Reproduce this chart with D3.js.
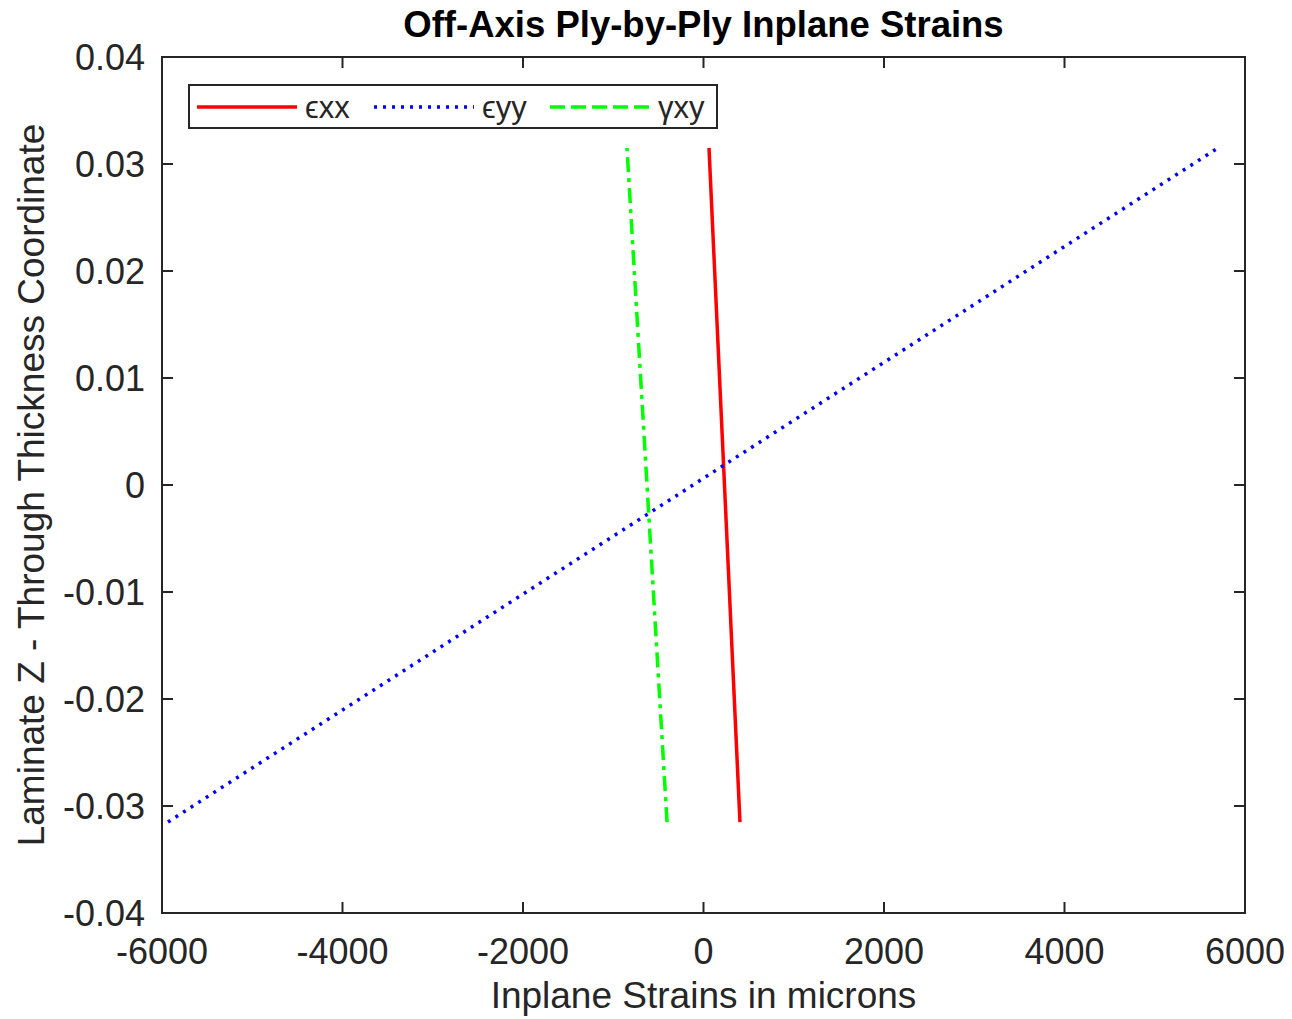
<!DOCTYPE html>
<html>
<head>
<meta charset="utf-8">
<script src="https://cdn.jsdelivr.net/npm/d3@7"></script>
<style>
body { margin: 0; background: #fff; }
text { font-family: "Liberation Sans", Arial, sans-serif; fill: #262626; }
</style>
</head>
<body>
<div id="graph"></div>
<script>
// ply stack through-thickness coordinates (bottom / top of laminate)
var zCoord = [-0.0315, 0.0315];
var exxVals = [404, 61];
var eyyVals = [-5934, 5701];
var gxyVals = [-404, -848];

var xTicks = [-6000, -4000, -2000, 0, 2000, 4000, 6000];
var yTicks = [-0.04, -0.03, -0.02, -0.01, 0, 0.01, 0.02, 0.03, 0.04];

var series = [
	{name: "\u03F5xx", vals: exxVals, color: "#ff0000", dash: null},
	{name: "\u03F5yy", vals: eyyVals, color: "#0000ff", dash: "3,6"},
	{name: "\u03B3xy", vals: gxyVals, color: "#00ff00", dash: "15,6,4,6"}
];

var W = 1292, H = 1019;
var margin = {top: 57, right: 47, bottom: 106, left: 162},
	width = W - margin.left - margin.right,
	height = H - margin.top - margin.bottom;

var svg = d3.select("#graph").append("svg")
	.attr("width", W)
	.attr("height", H);

var g = svg.append("g")
	.attr("transform", "translate(" + margin.left + "," + margin.top + ")");

var x = d3.scaleLinear().domain([-6000, 6000]).range([0, width]);
var y = d3.scaleLinear().domain([-0.04, 0.04]).range([height, 0]);

var axisColor = "#262626";
var tick = 11;

// box
g.append("rect")
	.attr("width", width).attr("height", height)
	.attr("fill", "none").attr("stroke", axisColor).attr("stroke-width", 2);

// ticks inward on all sides
xTicks.forEach(function(t) {
	g.append("line").attr("x1", x(t)).attr("x2", x(t)).attr("y1", height).attr("y2", height - tick)
		.attr("stroke", axisColor).attr("stroke-width", 2);
	g.append("line").attr("x1", x(t)).attr("x2", x(t)).attr("y1", 0).attr("y2", tick)
		.attr("stroke", axisColor).attr("stroke-width", 2);
	g.append("text").attr("x", x(t)).attr("y", height + 51)
		.attr("text-anchor", "middle").attr("font-size", 36)
		.text(String(t));
});
yTicks.forEach(function(t) {
	g.append("line").attr("x1", 0).attr("x2", tick).attr("y1", y(t)).attr("y2", y(t))
		.attr("stroke", axisColor).attr("stroke-width", 2);
	g.append("line").attr("x1", width).attr("x2", width - tick).attr("y1", y(t)).attr("y2", y(t))
		.attr("stroke", axisColor).attr("stroke-width", 2);
	g.append("text").attr("x", -17).attr("y", y(t)).attr("dy", "0.35em")
		.attr("text-anchor", "end").attr("font-size", 36)
		.text(t === 0 ? "0" : t.toFixed(2));
});

// lines
g.append("clipPath").attr("id", "clip").append("rect")
	.attr("width", width).attr("height", height);

series.forEach(function(s) {
	var pts = zCoord.map(function(z, i) { return {z: z, v: s.vals[i]}; });
	var line = d3.line().x(function(d) { return x(d.v); }).y(function(d) { return y(d.z); });
	g.append("path")
		.attr("d", line(pts))
		.attr("fill", "none")
		.attr("stroke", s.color)
		.attr("stroke-width", 3.5)
		.attr("stroke-dasharray", s.dash)
		.attr("clip-path", "url(#clip)");
});

// title and labels
svg.append("text").attr("x", margin.left + width / 2).attr("y", 37)
	.attr("text-anchor", "middle").attr("font-size", 36.5).attr("font-weight", "bold")
	.style("fill", "#000")
	.text("Off-Axis Ply-by-Ply Inplane Strains");
svg.append("text").attr("x", margin.left + width / 2).attr("y", 1008)
	.attr("text-anchor", "middle").attr("font-size", 37)
	.text("Inplane Strains in microns");
svg.append("text").attr("transform", "translate(44," + (margin.top + height / 2) + ") rotate(-90)")
	.attr("text-anchor", "middle").attr("font-size", 37)
	.text("Laminate Z - Through Thickness Coordinate");

// legend
var leg = svg.append("g").attr("transform", "translate(189,85)");
leg.append("rect").attr("width", 528).attr("height", 43)
	.attr("fill", "#fff").attr("stroke", axisColor).attr("stroke-width", 2);
var legX = [8, 185, 361];
series.forEach(function(s, i) {
	leg.append("line").attr("x1", legX[i]).attr("x2", legX[i] + 100).attr("y1", 22).attr("y2", 22)
		.attr("stroke", s.color).attr("stroke-width", 3.5)
		.attr("stroke-dasharray", s.dash === "15,6,4,6" ? "15,6" : s.dash);
	leg.append("text").attr("x", legX[i] + 108).attr("y", 22).attr("dy", "0.35em")
		.attr("font-size", 31).text(s.name);
});
</script>
</body>
</html>
